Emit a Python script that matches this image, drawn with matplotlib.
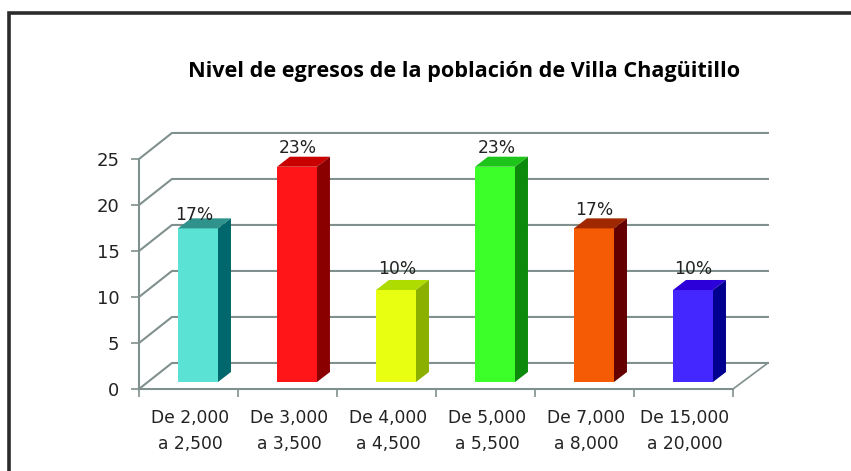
import matplotlib
matplotlib.use("Agg")
import matplotlib.pyplot as plt
from matplotlib.patches import Polygon

# datos de la grafica
categorias = ["De 2,000\na 2,500", "De 3,000\na 3,500", "De 4,000\na 4,500",
              "De 5,000\na 5,500", "De 7,000\na 8,000", "De 15,000\na 20,000"]
valores = [16.7, 23.4, 10.0, 23.4, 16.7, 10.0]
etiquetas = ["17%", "23%", "10%", "23%", "17%", "10%"]
yticks = [0, 5, 10, 15, 20, 25]

color_frente = ["#5ae2d4", "#ff1418", "#e8ff12", "#3cff2a", "#f55a04", "#4426ff"]
color_tapa = ["#2f938c", "#c80000", "#aedc00", "#1fc41a", "#a02800", "#2c00d8"]
color_lado = ["#00686c", "#8a0000", "#8cb000", "#0c8a0c", "#640000", "#000090"]

# ajuste de cada etiqueta sobre su barra
sep_etiqueta = [0.45, 1.08, 1.3, 1.08, 1.05, 1.3]
mov_etiqueta = [-0.015, 0.03, 0.035, 0.04, 0.025, 0.02]

gris = "#80908e"
W, H = 851, 471

fig = plt.figure(figsize=(W / 100, H / 100), dpi=100)
ax = fig.add_axes([139 / W, (H - 389) / H, 594 / W, 230 / H])
ax.set_xlim(0, 6)
ax.set_ylim(0, 25)
ax.patch.set_visible(False)

# profundidad del efecto 3d, en unidades de los ejes
fondo_x, fondo_y = 0.333, 2.83
fin_x = 6 + fondo_x + 0.02
barra_x, barra_y = 0.096, 0.76
prof_x, prof_y = 0.131, 1.09
ancho = 0.404

# paredes
for v in yticks:
    ax.plot([0, fondo_x, fin_x], [v, v + fondo_y, v + fondo_y],
            color=gris, lw=1.5, clip_on=False, zorder=1)
ax.plot([6, fin_x], [0, fondo_y], color=gris, lw=1.2, clip_on=False, zorder=1)

# barras
for i, v in enumerate(valores):
    x0 = i + 0.5 + barra_x - ancho / 2
    x1 = x0 + ancho
    top = v + barra_y
    ax.bar(x0, v, width=ancho, bottom=barra_y, align="edge",
           color=color_frente[i], zorder=3, clip_on=False)
    ax.add_patch(Polygon([(x0, top), (x1, top), (x1 + prof_x, top + prof_y), (x0 + prof_x, top + prof_y)],
                         color=color_tapa[i], lw=0, zorder=3, clip_on=False))
    ax.add_patch(Polygon([(x1, barra_y), (x1 + prof_x, barra_y + prof_y), (x1 + prof_x, top + prof_y), (x1, top)],
                         color=color_lado[i], lw=0, zorder=3, clip_on=False))
    ax.text(i + 0.5 + barra_x - 0.02 + mov_etiqueta[i], top + sep_etiqueta[i], etiquetas[i],
            ha="center", va="bottom", fontsize=12.3, color="#222222", zorder=4, clip_on=False)

for s in ["top", "right"]:
    ax.spines[s].set_visible(False)
for s in ["left", "bottom"]:
    ax.spines[s].set_color(gris)
    ax.spines[s].set_linewidth(1.5)

ax.set_yticks(yticks)
ax.set_xticks(range(7))
ax.set_xticklabels([])
ax.tick_params(axis="both", color=gris, width=1.2, length=6)
ax.tick_params(axis="y", labelsize=13, labelcolor="#222222", pad=8)

for i, c in enumerate(categorias):
    ax.text(i + 0.515, -2.2, c, ha="center", va="top", fontsize=12.3, color="#222222",
            linespacing=1.55, clip_on=False)

fig.text(464 / W, 1 - 72 / H, "Nivel de egresos de la población de Villa Chagüitillo",
         ha="center", va="center", fontsize=15.6, fontweight="bold",
         family="Open Sans", color="black")

# marco
fig.add_artist(plt.Line2D([9 / W, 9 / W, 1], [0, 1 - 13 / H, 1 - 13 / H],
                          color="#2b2b2b", lw=2.6, solid_joinstyle="miter"))

fig.savefig("out.png", dpi=100)
